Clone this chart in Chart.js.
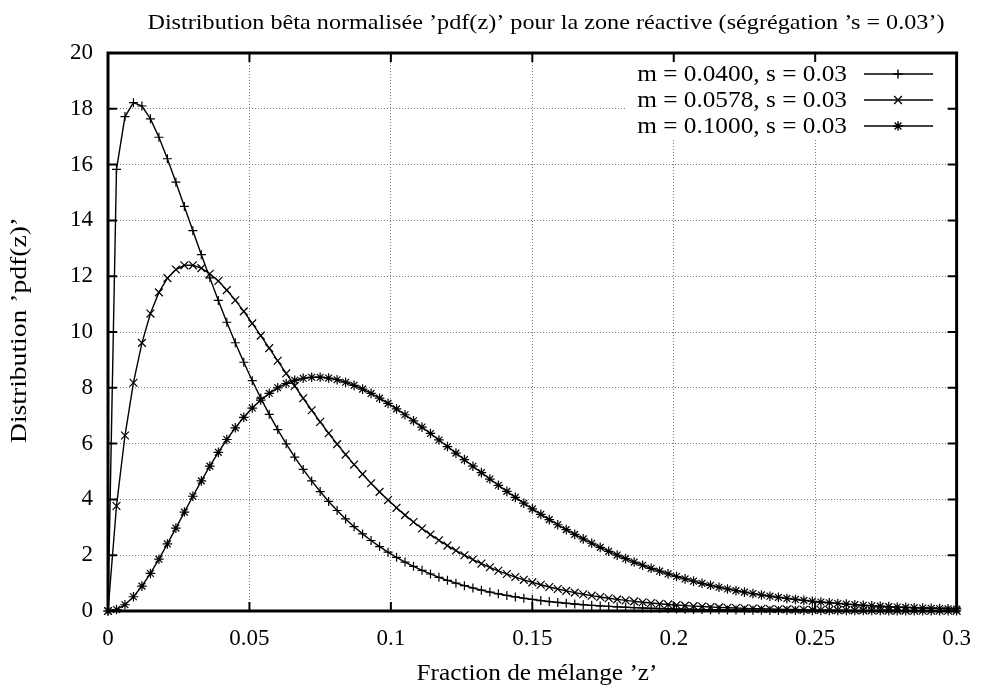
<!DOCTYPE html>
<html>
<head>
<meta charset="utf-8">
<script src="https://cdn.jsdelivr.net/npm/chart.js@4/dist/chart.umd.min.js"></script>
<style>
  html, body { margin: 0; padding: 0; background: #fff; }
</style>
</head>
<body>
<canvas id="pdfChart" width="985" height="691"></canvas>
<script>
// ── Data (z step 0.003) ──────────────────────────────────────────────────────
const zValues = [
    0, 0.003, 0.006, 0.009, 0.012, 0.015, 0.018, 0.021, 0.024, 0.027,
    0.030, 0.033, 0.036, 0.039, 0.042, 0.045, 0.048, 0.051, 0.054, 0.057,
    0.060, 0.063, 0.066, 0.069, 0.072, 0.075, 0.078, 0.081, 0.084, 0.087,
    0.090, 0.093, 0.096, 0.099, 0.102, 0.105, 0.108, 0.111, 0.114, 0.117,
    0.120, 0.123, 0.126, 0.129, 0.132, 0.135, 0.138, 0.141, 0.144, 0.147,
    0.150, 0.153, 0.156, 0.159, 0.162, 0.165, 0.168, 0.171, 0.174, 0.177,
    0.180, 0.183, 0.186, 0.189, 0.192, 0.195, 0.198, 0.201, 0.204, 0.207,
    0.210, 0.213, 0.216, 0.219, 0.222, 0.225, 0.228, 0.231, 0.234, 0.237,
    0.240, 0.243, 0.246, 0.249, 0.252, 0.255, 0.258, 0.261, 0.264, 0.267,
    0.270, 0.273, 0.276, 0.279, 0.282, 0.285, 0.288, 0.291, 0.294, 0.297,
    0.300
];

const pdfM0400 = [
    0, 15.83, 17.72, 18.22, 18.10, 17.64, 16.98, 16.21, 15.37, 14.50,
    13.63, 12.77, 11.94, 11.13, 10.35, 9.615, 8.915, 8.254, 7.632, 7.048,
    6.502, 5.992, 5.516, 5.074, 4.663, 4.282, 3.928, 3.602, 3.300, 3.021,
    2.764, 2.527, 2.309, 2.109, 1.924, 1.755, 1.600, 1.458, 1.327, 1.208,
    1.099, 0.9987, 0.9074, 0.8240, 0.7479, 0.6785, 0.6152, 0.5575, 0.5050, 0.4572,
    0.4138, 0.3742, 0.3383, 0.3057, 0.2761, 0.2492, 0.2249, 0.2028, 0.1828, 0.1647,
    0.1483, 0.1335, 0.1201, 0.1080, 0.0971, 0.0872, 0.0783, 0.0703, 0.0630, 0.0565,
    0.0506, 0.0454, 0.0406, 0.0363, 0.0325, 0.0291, 0.0260, 0.0232, 0.0207, 0.0185,
    0.0165, 0.0147, 0.0131, 0.0116, 0.0104, 0.0092, 0.0082, 0.0073, 0.0065, 0.0057,
    0.0051, 0.0045, 0.0040, 0.0035, 0.0031, 0.0028, 0.0024, 0.0022, 0.0019, 0.0017,
    0.0015
];

const pdfM0578 = [
    0, 3.764, 6.289, 8.183, 9.609, 10.66, 11.42, 11.93, 12.24, 12.39,
    12.39, 12.29, 12.09, 11.83, 11.50, 11.14, 10.74, 10.31, 9.871, 9.421,
    8.968, 8.515, 8.067, 7.626, 7.196, 6.777, 6.372, 5.982, 5.607, 5.248,
    4.905, 4.579, 4.269, 3.976, 3.698, 3.437, 3.190, 2.958, 2.740, 2.536,
    2.345, 2.167, 2.000, 1.845, 1.700, 1.566, 1.441, 1.324, 1.217, 1.117,
    1.025, 0.9393, 0.8605, 0.7877, 0.7206, 0.6588, 0.6018, 0.5494, 0.5013, 0.4571,
    0.4165, 0.3793, 0.3451, 0.3139, 0.2853, 0.2592, 0.2353, 0.2134, 0.1935, 0.1754,
    0.1588, 0.1437, 0.1300, 0.1175, 0.1062, 0.0958, 0.0865, 0.0780, 0.0703, 0.0633,
    0.0570, 0.0513, 0.0461, 0.0414, 0.0372, 0.0334, 0.0300, 0.0269, 0.0241, 0.0215,
    0.0193, 0.0172, 0.0154, 0.0138, 0.0123, 0.0110, 0.0098, 0.0087, 0.0077, 0.0069,
    0.0061
];

const pdfM1000 = [
    0, 0.0520, 0.2246, 0.5103, 0.8910, 1.346, 1.857, 2.404, 2.972, 3.546,
    4.113, 4.665, 5.192, 5.687, 6.147, 6.566, 6.942, 7.274, 7.561, 7.803,
    8.000, 8.155, 8.268, 8.342, 8.378, 8.380, 8.349, 8.288, 8.200, 8.088,
    7.953, 7.799, 7.628, 7.442, 7.244, 7.034, 6.817, 6.592, 6.363, 6.130,
    5.895, 5.659, 5.424, 5.190, 4.959, 4.730, 4.506, 4.287, 4.073, 3.864,
    3.661, 3.465, 3.275, 3.092, 2.916, 2.746, 2.584, 2.429, 2.281, 2.139,
    2.004, 1.876, 1.754, 1.639, 1.530, 1.427, 1.329, 1.237, 1.150, 1.069,
    0.9922, 0.9203, 0.8529, 0.7898, 0.7307, 0.6755, 0.6239, 0.5758, 0.5310, 0.4893,
    0.4505, 0.4144, 0.3810, 0.3499, 0.3212, 0.2946, 0.2700, 0.2472, 0.2262, 0.2068,
    0.1890, 0.1725, 0.1574, 0.1435, 0.1307, 0.1190, 0.1082, 0.0984, 0.0893, 0.0811,
    0.0735
];

const seriesLabels = ["m = 0.0400, s = 0.03", "m = 0.0578, s = 0.03", "m = 0.1000, s = 0.03"];
const xTicks       = [0, 0.05, 0.1, 0.15, 0.2, 0.25, 0.3];
const xTickLabels  = ["0", "0.05", "0.1", "0.15", "0.2", "0.25", "0.3"];
const yTicks       = [0, 2, 4, 6, 8, 10, 12, 14, 16, 18, 20];
const yTickLabels  = ["0", "2", "4", "6", "8", "10", "12", "14", "16", "18", "20"];
const chartTitle   = "Distribution bêta normalisée ’pdf(z)’ pour la zone réactive (ségrégation ’s = 0.03’)";
const xTitle       = "Fraction de mélange ’z’";
const yTitle       = "Distribution ’pdf(z)’";

// ── Look ──────────────────────────────────────────────────────────────────────
const SERIF = '"Liberation Serif", "Times New Roman", serif';
const markers = [
    { style: "cross",    radius: 4.5 },
    { style: "crossRot", radius: 5.5 },
    { style: "star",     radius: 4.8 }
];

function drawMarker(ctx, style, r, x, y) {
    if (Chart.helpers && Chart.helpers.drawPoint) {
        Chart.helpers.drawPoint(ctx, { pointStyle: style, radius: r, rotation: 0, borderWidth: 1.2 }, x, y);
        return;
    }
    const d = r * Math.SQRT1_2;
    ctx.beginPath();
    if (style !== "crossRot") { ctx.moveTo(x - r, y); ctx.lineTo(x + r, y); ctx.moveTo(x, y - r); ctx.lineTo(x, y + r); }
    if (style !== "cross")    { ctx.moveTo(x - d, y - d); ctx.lineTo(x + d, y + d); ctx.moveTo(x - d, y + d); ctx.lineTo(x + d, y - d); }
    ctx.stroke();
}

function stretchedText(ctx, text, x, y, size, sx, rot) {
    ctx.save();
    ctx.translate(x, y);
    if (rot) ctx.rotate(rot);
    ctx.scale(sx, 1);
    ctx.font = size + "px " + SERIF;
    ctx.fillText(text, 0, 0);
    ctx.restore();
}

// ── gnuplot-like frame, key, titles ───────────────────────────────────────────
const gnuplotFrame = {
    id: "gnuplotFrame",
    beforeDatasetsDraw(chart) {
        const { ctx, chartArea: a, scales: { x, y } } = chart;
        ctx.save();

        // opaque key box
        ctx.fillStyle = "#fff";
        ctx.fillRect(626, 59, 334, 80);

        // key entries
        ctx.fillStyle = "#000";
        ctx.strokeStyle = "#000";
        ctx.lineWidth = 1.4;
        ctx.textBaseline = "middle";
        const rows = [74, 100, 126];
        seriesLabels.forEach((lab, i) => {
            ctx.textAlign = "right";
            stretchedText(ctx, lab, 847, rows[i] + 1, 23, 1.1, 0);
            ctx.beginPath();
            ctx.moveTo(864, rows[i]);
            ctx.lineTo(933, rows[i]);
            ctx.stroke();
            drawMarker(ctx, markers[i].style, markers[i].radius, 898, rows[i]);
        });

        // border
        ctx.lineWidth = 3;
        ctx.strokeRect(a.left, a.top, a.right - a.left, a.bottom - a.top);

        // inward ticks on all four sides
        ctx.lineWidth = 2;
        ctx.beginPath();
        xTicks.slice(1, -1).forEach(v => {
            const px = x.getPixelForValue(v);
            ctx.moveTo(px, a.bottom); ctx.lineTo(px, a.bottom - 9);
            ctx.moveTo(px, a.top);    ctx.lineTo(px, a.top + 9);
        });
        yTicks.slice(1, -1).forEach(v => {
            const py = y.getPixelForValue(v);
            ctx.moveTo(a.left, py);  ctx.lineTo(a.left + 9, py);
            ctx.moveTo(a.right, py); ctx.lineTo(a.right - 9, py);
        });
        ctx.stroke();

        // titles
        ctx.textAlign = "center";
        stretchedText(ctx, chartTitle, 546, 23, 22, 1.1, 0);
        stretchedText(ctx, xTitle, 537, 674, 23, 1.1, 0);
        stretchedText(ctx, yTitle, 20, 330, 24, 1.15, -Math.PI / 2);

        ctx.restore();
    }
};

// ── Chart setup ───────────────────────────────────────────────────────────────
const seriesValues = [pdfM0400, pdfM0578, pdfM1000];
const ctx = document.getElementById("pdfChart").getContext("2d");

const chart = new Chart(ctx, {
    type: "line",
    data: {
        datasets: seriesValues.map((vals, i) => ({
            label: seriesLabels[i],
            data: zValues.map((z, k) => ({ x: z, y: vals[k] })),
            borderColor: "#000",
            borderWidth: 1.4,
            pointStyle: markers[i].style,
            pointRadius: markers[i].radius,
            pointBorderColor: "#000",
            pointBorderWidth: 1.2,
            fill: false,
            tension: 0,
            clip: false
        }))
    },
    options: {
        responsive: false,
        animation: false,
        devicePixelRatio: 1,
        events: [],
        layout: { padding: { left: 0, top: 53, right: 21, bottom: 0 } },
        plugins: {
            legend: { display: false },
            title: { display: false },
            tooltip: { enabled: false }
        },
        scales: {
            x: {
                type: "linear",
                min: 0,
                max: 0.3,
                afterBuildTicks: s => { s.ticks = xTicks.map(v => ({ value: v })); },
                afterFit: s => { s.height = 80; },
                ticks: {
                    color: "#000",
                    font: { family: SERIF, size: 23 },
                    padding: 14,
                    maxRotation: 0,
                    callback: (v, i) => xTickLabels[i]
                },
                grid: { color: "#7a7a7a", lineWidth: 1, drawTicks: false },
                border: { display: false, dash: [1, 2] }
            },
            y: {
                type: "linear",
                min: 0,
                max: 20,
                afterBuildTicks: s => { s.ticks = yTicks.map(v => ({ value: v })); },
                afterFit: s => { s.width = 108; },
                ticks: {
                    color: "#000",
                    font: { family: SERIF, size: 23 },
                    padding: 15,
                    callback: (v, i) => yTickLabels[i]
                },
                grid: { color: "#7a7a7a", lineWidth: 1, drawTicks: false },
                border: { display: false, dash: [1, 2] }
            }
        }
    },
    plugins: [gnuplotFrame]
});
</script>
</body>
</html>
